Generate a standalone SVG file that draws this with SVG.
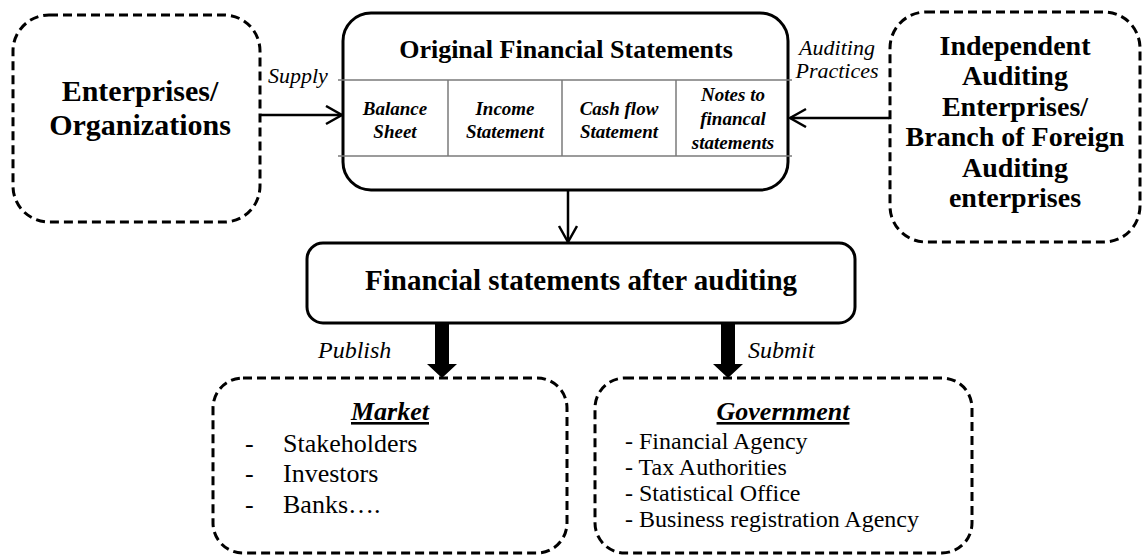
<svg xmlns="http://www.w3.org/2000/svg" width="1143" height="556" viewBox="0 0 1143 556" font-family="Liberation Serif, Tinos, Times New Roman, DejaVu Serif, Noto Serif, serif">
  <defs>
    <marker id="open-arrow" markerWidth="20" markerHeight="22" refX="18" refY="10" orient="auto" markerUnits="userSpaceOnUse">
      <path d="M2,1 L18,10 L2,19" fill="none" stroke="#000" stroke-width="2.5"/>
    </marker>
    <style>
      .dashed { fill: #fff; stroke: #000; stroke-width: 3; stroke-dasharray: 9 5; }
      .solid { fill: #fff; stroke: #000; stroke-width: 3; }
      .grid { stroke: #7a7a7a; stroke-width: 1.5; fill: none; }
      .conn { stroke: #000; stroke-width: 2.5; fill: none; }
      .big { font-weight: bold; font-size: 29px; text-anchor: middle; }
      .org { font-weight: bold; font-size: 30px; text-anchor: middle; }
      .title { font-weight: bold; font-size: 26px; text-anchor: middle; }
      .aud { font-weight: bold; font-size: 28px; text-anchor: middle; }
      .cell { font-weight: bold; font-style: italic; font-size: 19px; text-anchor: middle; }
      .lbl { font-style: italic; font-size: 22px; }
      .head { font-weight: bold; font-style: italic; font-size: 26px; text-anchor: middle; text-decoration: underline; }
      .item { font-size: 26px; }
      .gitem { font-size: 24px; }
    </style>
  </defs>

  <!-- Source organisations -->
  <g id="enterprises">
    <rect class="dashed" x="13" y="15" width="247" height="207" rx="36"/>
    <text class="org" x="140" y="101">Enterprises/</text>
    <text class="org" x="140" y="135">Organizations</text>
  </g>

  <!-- Original statements with the four component cells -->
  <g id="original-statements">
    <rect class="solid" x="343" y="13" width="445" height="177" rx="28"/>
    <text class="title" x="566" y="58">Original Financial Statements</text>
    <line class="grid" x1="338" y1="80" x2="792" y2="80"/>
    <line class="grid" x1="338" y1="156" x2="792" y2="156"/>
    <line class="grid" x1="448" y1="80" x2="448" y2="156"/>
    <line class="grid" x1="562" y1="80" x2="562" y2="156"/>
    <line class="grid" x1="676" y1="80" x2="676" y2="156"/>
    <text class="cell" x="395" y="115">Balance</text>
    <text class="cell" x="395" y="138">Sheet</text>
    <text class="cell" x="505" y="115">Income</text>
    <text class="cell" x="505" y="138">Statement</text>
    <text class="cell" x="619" y="115">Cash flow</text>
    <text class="cell" x="619" y="138">Statement</text>
    <text class="cell" x="733" y="101">Notes to</text>
    <text class="cell" x="733" y="125">financal</text>
    <text class="cell" x="733" y="149">statements</text>
  </g>

  <!-- Auditors -->
  <g id="auditors">
    <rect class="dashed" x="890" y="12" width="250" height="230" rx="36"/>
    <text class="aud" x="1015" y="55">Independent</text>
    <text class="aud" x="1015" y="85">Auditing</text>
    <text class="aud" x="1015" y="116">Enterprises/</text>
    <text class="aud" x="1015" y="146">Branch of Foreign</text>
    <text class="aud" x="1015" y="177">Auditing</text>
    <text class="aud" x="1015" y="207">enterprises</text>
  </g>

  <!-- Audited statements -->
  <g id="audited-statements">
    <rect class="solid" x="307" y="243" width="548" height="80" rx="16"/>
    <text class="big" x="581" y="290">Financial statements after auditing</text>
  </g>

  <!-- Recipients -->
  <g id="market">
    <rect class="dashed" x="213" y="378" width="354" height="175" rx="30"/>
    <text class="head" x="390" y="420">Market</text>
    <text class="item" x="245" y="452">-</text>
    <text class="item" x="283" y="452">Stakeholders</text>
    <text class="item" x="245" y="482">-</text>
    <text class="item" x="283" y="482">Investors</text>
    <text class="item" x="245" y="513">-</text>
    <text class="item" x="283" y="513">Banks….</text>
  </g>

  <g id="government">
    <rect class="dashed" x="595" y="378" width="377" height="175" rx="30"/>
    <text class="head" x="783" y="420">Government</text>
    <text class="gitem" x="625" y="449">- Financial Agency</text>
    <text class="gitem" x="625" y="475">- Tax Authorities</text>
    <text class="gitem" x="625" y="501">- Statistical Office</text>
    <text class="gitem" x="625" y="527">- Business registration Agency</text>
  </g>

  <!-- Connectors -->
  <g id="connectors">
    <line class="conn" x1="261" y1="115" x2="342" y2="115" marker-end="url(#open-arrow)"/>
    <text class="lbl" x="268" y="83">Supply</text>
    <line class="conn" x1="889" y1="118" x2="790" y2="118" marker-end="url(#open-arrow)"/>
    <text class="lbl" x="837" y="55" text-anchor="middle">Auditing</text>
    <text class="lbl" x="837" y="78" text-anchor="middle">Practices</text>
    <line class="conn" x1="568" y1="190" x2="568" y2="242" marker-end="url(#open-arrow)"/>
    <path d="M435,323 L449,323 L449,364 L457,364 L442,378 L427,364 L435,364 Z" fill="#000"/>
    <text class="lbl" x="318" y="358" style="font-size:24px">Publish</text>
    <path d="M721,323 L735,323 L735,364 L743,364 L728,378 L713,364 L721,364 Z" fill="#000"/>
    <text class="lbl" x="748" y="358" style="font-size:24px">Submit</text>
  </g>
</svg>
